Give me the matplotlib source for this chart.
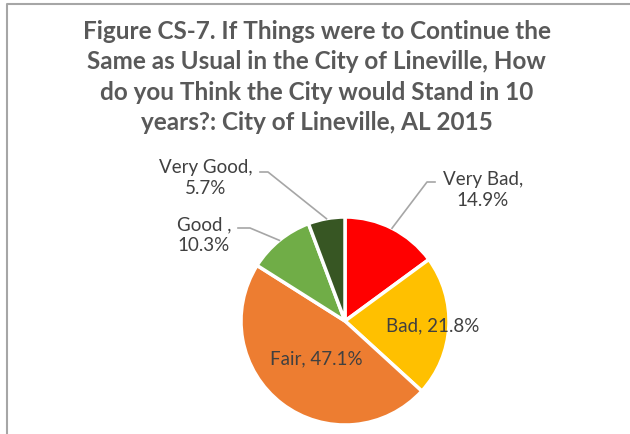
import numpy as np
import matplotlib
matplotlib.use('Agg')
import matplotlib.pyplot as plt

# data
categories = ['Very Bad', 'Bad', 'Fair', 'Good ', 'Very Good']
shares = [14.9, 21.8, 47.1, 10.3, 5.7]
colours = ['#FF0000', '#FFC000', '#ED7D31', '#70AD47', '#375623']

title = ('Figure CS-7. If Things were to Continue the\n'
         'Same as Usual in the City of Lineville, How\n'
         'do you Think the City would Stand in 10\n'
         'years?: City of Lineville, AL 2015')

plt.rcParams['font.family'] = ['Lato', 'DejaVu Sans']

W, H = 630, 434
fig = plt.figure(figsize=(W/100, H/100), dpi=100)
ax = fig.add_axes([0, 0, 1, 1])

# chart frame (only left and top visible in the crop)
ax.plot([7, 7, W], [0, H-4, H-4], color='#A6A6A6', lw=1.5, solid_capstyle='butt')

cx, cy, R = 345, H-321, 104
wedges, _ = ax.pie(shares, colors=colours, startangle=90, counterclock=False,
                   center=(cx, cy), radius=R, frame=True,
                   wedgeprops=dict(edgecolor='white', linewidth=2.5))
ax.set_xlim(0, W)
ax.set_ylim(0, H)
ax.set_aspect('equal')
ax.axis('off')

fig.text(0.503, 1-77/H, title, ha='center', va='center', fontsize=17.5,
         fontweight='bold', color='#595959', linespacing=1.38)

txt = dict(fontsize=13.5, color='#404040', ha='center', va='center',
           linespacing=1.3)
mids = [np.deg2rad((w.theta1 + w.theta2)/2) for w in wedges]
labels = ['%s,\n%.1f%%' % (c, s) for c, s in zip(categories, shares)]

# inside labels
for i, rr in [(1, 0.84), (2, 0.46)]:
    ax.text(cx + rr*R*np.cos(mids[i]), cy + rr*R*np.sin(mids[i]),
            labels[i].replace('\n', ' '), **txt)

# outside labels with leader lines: (index, text centre, elbow, line end)
outside = [(0, (483, 190), (435, 182), (427, 182)),
           (4, (206, 178), (260, 172), (268, 172)),
           (3, (204, 235), (238, 228), (250, 228))]
for i, tpos, p0, p1 in outside:
    ax.text(tpos[0], H-tpos[1], labels[i], **txt)
    ex, ey = cx + R*np.cos(mids[i]), cy + R*np.sin(mids[i])
    ax.plot([p0[0], p1[0], ex], [H-p0[1], H-p1[1], ey],
            color='#A6A6A6', lw=1.2)

fig.savefig('out.png', dpi=100)
